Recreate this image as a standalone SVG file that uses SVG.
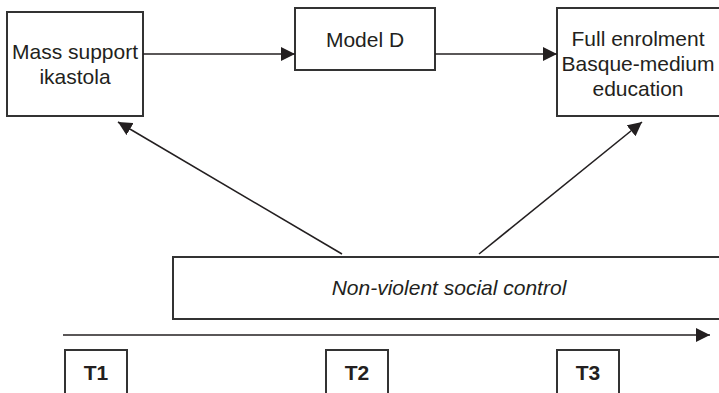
<svg xmlns="http://www.w3.org/2000/svg" width="719" height="393" viewBox="0 0 719 393">
<style>
.box{fill:#fff;stroke:#333;stroke-width:2}
.ln{fill:none;stroke:#231f20;stroke-width:1.6}
.t{font-family:"Liberation Sans",Arial,sans-serif;font-size:21px;fill:#231f20;text-anchor:middle}
.i{font-style:italic}
.b{font-weight:bold}
</style>
<defs>
<marker id="ah" markerWidth="10" markerHeight="10" refX="8" refY="4" orient="auto" markerUnits="userSpaceOnUse" viewBox="0 0 8 8">
<path d="M0,0 L8,4 L0,8 Z" fill="#231f20"/>
</marker>
<marker id="ah2" markerWidth="14" markerHeight="14" refX="13" refY="6.5" orient="auto" markerUnits="userSpaceOnUse" viewBox="0 0 13 13">
<path d="M0,0 L13,6.5 L0,13 Z" fill="#231f20"/>
</marker>
</defs>
<g id="node-mass">
<rect class="box" x="7" y="12" width="136" height="104"/>
<text class="t" x="75" y="59">Mass support</text>
<text class="t" x="75" y="84">ikastola</text>
</g>
<g id="node-modeld">
<rect class="box" x="295" y="8" width="140" height="62"/>
<text class="t" x="365" y="47">Model D</text>
</g>
<g id="node-full">
<rect class="box" x="557" y="8" width="170" height="108"/>
<text class="t" x="638" y="46">Full enrolment</text>
<text class="t" x="638" y="71">Basque-medium</text>
<text class="t" x="638" y="96">education</text>
</g>
<g id="node-control">
<rect class="box" x="173" y="257" width="556" height="62"/>
<text class="t i" x="449" y="295">Non-violent social control</text>
</g>
<g id="node-t1">
<rect class="box" x="65" y="350" width="62" height="60"/>
<text class="t b" x="96" y="380">T1</text>
</g>
<g id="node-t2">
<rect class="box" x="326" y="350" width="62" height="60"/>
<text class="t b" x="357" y="380">T2</text>
</g>
<g id="node-t3">
<rect class="box" x="557" y="350" width="62" height="60"/>
<text class="t b" x="588" y="380">T3</text>
</g>
<g id="connectors">
<line class="ln" x1="143" y1="54" x2="295" y2="54" marker-end="url(#ah2)"/>
<line class="ln" x1="435" y1="54" x2="557" y2="54" marker-end="url(#ah2)"/>
<line class="ln" x1="342" y1="254" x2="118" y2="122" marker-end="url(#ah2)"/>
<line class="ln" x1="479" y1="254" x2="642" y2="122" marker-end="url(#ah2)"/>
<line class="ln" x1="63" y1="335" x2="710" y2="335" marker-end="url(#ah2)"/>
</g>
</svg>
